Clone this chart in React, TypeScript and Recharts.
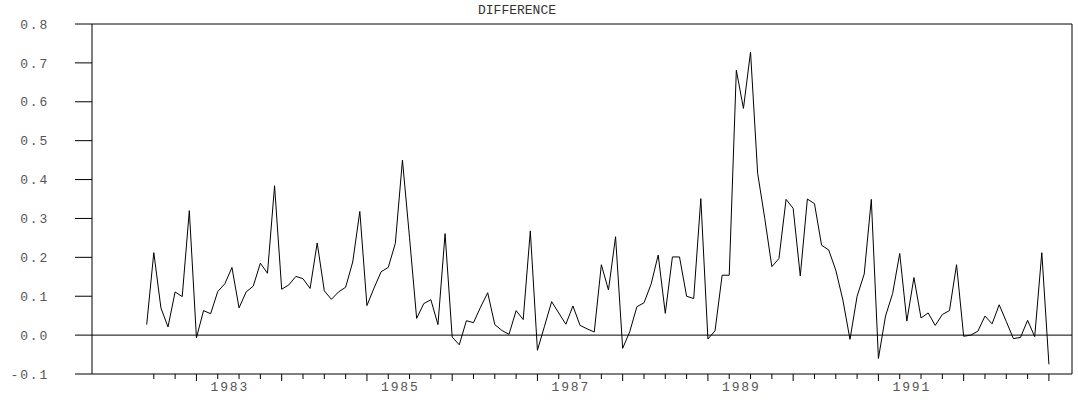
import React from 'react';
import { LineChart, Line, XAxis, YAxis, ReferenceLine } from 'recharts';

// monthly values, June 1982 .. January 1993
const difference = [
  0.027, 0.212, 0.07, 0.021, 0.111, 0.099, 0.32, -0.007, 0.063, 0.055,
  0.112, 0.132, 0.174, 0.07, 0.111, 0.126, 0.185, 0.159, 0.384, 0.118,
  0.129, 0.151, 0.145, 0.12, 0.237, 0.114, 0.092, 0.111, 0.123, 0.188,
  0.318, 0.076, 0.121, 0.163, 0.174, 0.236, 0.45, 0.25, 0.043, 0.081,
  0.091, 0.027, 0.261, -0.005, -0.025, 0.037, 0.032, 0.072, 0.109, 0.027,
  0.012, 0.002, 0.063, 0.04, 0.268, -0.039, 0.023, 0.086, 0.057, 0.028,
  0.075, 0.025, 0.016, 0.008, 0.181, 0.116, 0.253, -0.034, 0.009, 0.073,
  0.083, 0.131, 0.206, 0.056, 0.201, 0.201, 0.1, 0.094, 0.351, -0.01,
  0.011, 0.154, 0.154, 0.681, 0.583, 0.728, 0.416, 0.3, 0.176, 0.197,
  0.349, 0.326, 0.152, 0.35, 0.338, 0.231, 0.219, 0.167, 0.09, -0.011,
  0.1, 0.157, 0.349, -0.06, 0.049, 0.107, 0.21, 0.036, 0.148, 0.044,
  0.057, 0.025, 0.053, 0.063, 0.181, -0.003, 0.0, 0.01, 0.049, 0.029,
  0.078, 0.035, -0.009, -0.006, 0.038, -0.004, 0.212, -0.075,
];

const yTicks = [-0.1, 0.0, 0.1, 0.2, 0.3, 0.4, 0.5, 0.6, 0.7, 0.8];
// month index of each quarter tick; January ticks get a longer mark
const quarterTicks = [
  1, 4, 7, 10, 13, 16, 19, 22, 25, 28, 31, 34, 37, 40, 43, 46, 49, 52, 55, 58,
  61, 64, 67, 70, 73, 76, 79, 82, 85, 88, 91, 94, 97, 100, 103, 106, 109, 112,
  115, 118, 121, 124, 127,
];
const januaryTicks = [7, 19, 31, 43, 55, 67, 79, 91, 103, 115, 127];
const yearLabels = ['1983', '1985', '1987', '1989', '1991'];
const yearLabelPos = [11.7, 35.7, 59.7, 83.7, 107.7];
const xDomain: [number, number] = [-7.7, 130.25];
const yDomain: [number, number] = [-0.1, 0.8];

const data = difference.map((v, i) => ({ i, v }));

const MONO = '"Liberation Mono", "DejaVu Sans Mono", monospace';

const XTick = (props: any) => {
  const { x, y, payload } = props;
  const li = yearLabelPos.indexOf(payload.value);
  if (li >= 0) {
    return (
      <text
        x={x}
        y={y + 17}
        textAnchor="middle"
        fill="#555"
        fontFamily={MONO}
        fontSize={13}
        letterSpacing={1.8}
      >
        {yearLabels[li]}
      </text>
    );
  }
  const long = januaryTicks.includes(payload.value);
  return <line x1={x} y1={y} x2={x} y2={y + (long ? 7 : 5)} stroke="#000" strokeWidth={1} />;
};

export default function App() {
  return (
    <div style={{ position: 'absolute', left: 0, top: 0, width: 1078, height: 403, background: '#fff' }}>
      <LineChart
        width={1078}
        height={403}
        data={data}
        margin={{ top: 24, right: 6, left: 0, bottom: 0 }}
      >
        <text
          x={517}
          y={14}
          textAnchor="middle"
          fill="#333"
          fontFamily={MONO}
          fontSize={13}
        >
          DIFFERENCE
        </text>
        <XAxis
          type="number"
          dataKey="i"
          domain={xDomain}
          allowDataOverflow
          ticks={[...quarterTicks, ...yearLabelPos]}
          interval={0}
          tick={<XTick />}
          tickLine={false}
          tickSize={0}
          tickMargin={0}
          axisLine={{ stroke: '#000', strokeWidth: 1 }}
          height={29}
        />
        <YAxis
          type="number"
          domain={yDomain}
          allowDataOverflow
          ticks={yTicks}
          interval={0}
          width={92}
          tickSize={17}
          tickMargin={26}
          tickLine={{ stroke: '#000', strokeWidth: 1 }}
          axisLine={{ stroke: '#000' }}
          tick={{ fill: '#555', fontFamily: MONO, fontSize: 13, letterSpacing: 1.8 }}
          tickFormatter={(v: number) => v.toFixed(1)}
        />
        <ReferenceLine y={yDomain[1]} stroke="#000" strokeWidth={1} ifOverflow="visible" />
        <ReferenceLine x={xDomain[1]} stroke="#000" strokeWidth={1} ifOverflow="visible" />
        <ReferenceLine y={0} stroke="#000" />
        <Line
          type="linear"
          dataKey="v"
          stroke="#000"
          strokeWidth={1}
          dot={false}
          isAnimationActive={false}
        />
      </LineChart>
    </div>
  );
}
